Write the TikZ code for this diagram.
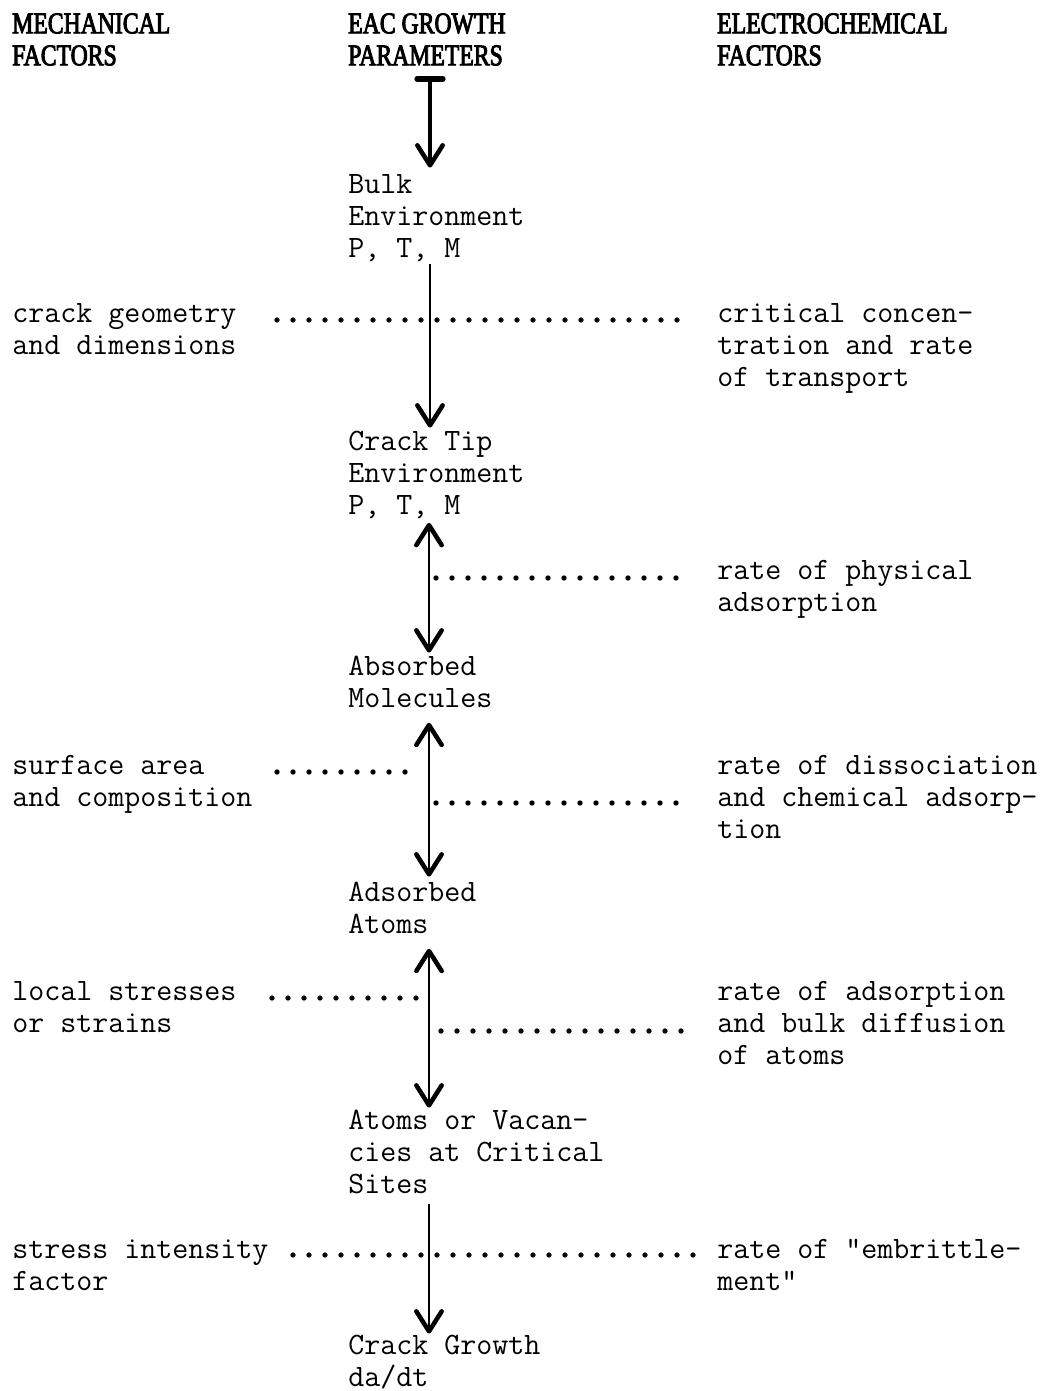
\documentclass[tikz,border=0pt]{standalone}
\usepackage{fontspec}
\newfontfamily\hdrfont[FakeStretch=0.79,FakeBold=3]{Liberation Serif}
\usetikzlibrary{arrows.meta,calc}
\tikzset{
  myhead/.tip={Straight Barb[length=15pt,width=19pt,line width=3.4pt,round]},
  mybar/.tip={Bar[width=19pt,line width=4.5pt,round]},
}
\begin{document}
\begin{tikzpicture}[x=0.75pt,y=-0.75pt,
  txt/.style={anchor=north west,inner sep=0pt,align=left,font=\ttfamily\fontsize{23.3}{24}\selectfont\addfontfeatures{FakeBold=2}},
  hdr/.style={anchor=north west,inner sep=0pt,align=left,font=\hdrfont\fontsize{22.5}{24}\selectfont},
  flow/.style={line width=1.5pt,-myhead},
  bothflow/.style={line width=1.5pt,myhead-myhead},
  startflow/.style={line width=3pt,mybar-myhead},
  dotline/.style={line width=4pt,line cap=round,dash pattern=on 0pt off 12pt}]
\fill[white] (0,0) rectangle (1045,1391);
\useasboundingbox (0,0) rectangle (1045,1391);
% headers
\node[hdr] (hm) at (12,10.6) {\strut MECHANICAL\\FACTORS};
\node[hdr] (hp) at (348,10.6) {\strut EAC GROWTH\\PARAMETERS};
\node[hdr] (he) at (717,10.6) {\strut ELECTROCHEMICAL\\FACTORS};
% centre column
\node[txt] (bulk) at (348,170.6) {\strut Bulk\\Environment\\P, T, M};
\node[txt] (tip) at (348,427.6) {\strut Crack Tip\\Environment\\P, T, M};
\node[txt] (absm) at (348,652.6) {\strut Absorbed\\Molecules};
\node[txt] (adsa) at (348,878.6) {\strut Adsorbed\\Atoms};
\node[txt] (sites) at (348,1106.6) {\strut Atoms or Vacan-\\cies at Critical\\Sites};
\node[txt] (growth) at (348,1331.6) {\strut Crack Growth\\da/dt};
% left column
\node[txt] (geo) at (12,299.6) {\strut crack geometry\\and dimensions};
\node[txt] (surf) at (12,751.6) {\strut surface area\\and composition};
\node[txt] (local) at (12,977.6) {\strut local stresses\\or strains};
\node[txt] (sif) at (12,1235.6) {\strut stress intensity\\factor};
% right column
\node[txt] (crit) at (717,299.6) {\strut critical concen-\\tration and rate\\of transport};
\node[txt] (phys) at (717,556.6) {\strut rate of physical\\adsorption};
\node[txt] (diss) at (717,751.6) {\strut rate of dissociation\\and chemical adsorp-\\tion};
\node[txt] (diff) at (717,977.6) {\strut rate of adsorption\\and bulk diffusion\\of atoms};
\node[txt] (emb) at (717,1235.6) {\strut rate of "embrittle-\\ment"};
% shaft columns
\coordinate (axa) at (430,0);
\coordinate (axb) at (429,0);
% arrows
\draw[startflow] ($(hp.south -| axa)+(0,10)$) -- ($(bulk.north -| axa)+(0,-3)$);
\draw[flow] ($(bulk.south -| axa)+(0,2)$) -- (tip.north -| axa);
\draw[bothflow] ($(tip.south -| axb)+(0,4)$) -- (absm.north -| axb);
\draw[bothflow] ($(absm.south -| axb)+(0,15)$) -- ($(adsa.north -| axb)+(0,-2)$);
\draw[bothflow] ($(adsa.south -| axb)+(0,15)$) -- ($(sites.north -| axb)+(0,1)$);
\draw[flow] ($(sites.south -| axb)+(0,10)$) -- ($(growth.north -| axb)+(0,2)$);
% dotted leaders
\coordinate (d1a) at (277,320);  \coordinate (d1b) at (680,320);
\coordinate (d2a) at (436,578);  \coordinate (d2b) at (680,578);
\coordinate (d3a) at (277,772);  \coordinate (d3b) at (420,772);
\coordinate (d4a) at (436,803);  \coordinate (d4b) at (680,803);
\coordinate (d5a) at (272,998);  \coordinate (d5b) at (420,998);
\coordinate (d6a) at (441,1031); \coordinate (d6b) at (695,1031);
\coordinate (d7a) at (293,1255); \coordinate (d7b) at (695,1255);
\draw[dotline] (d1a) -- (d1b);
\draw[dotline] (d2a) -- (d2b);
\draw[dotline] (d3a) -- (d3b);
\draw[dotline] (d4a) -- (d4b);
\draw[dotline] (d5a) -- (d5b);
\draw[dotline] (d6a) -- (d6b);
\draw[dotline] (d7a) -- (d7b);
\end{tikzpicture}
\end{document}
